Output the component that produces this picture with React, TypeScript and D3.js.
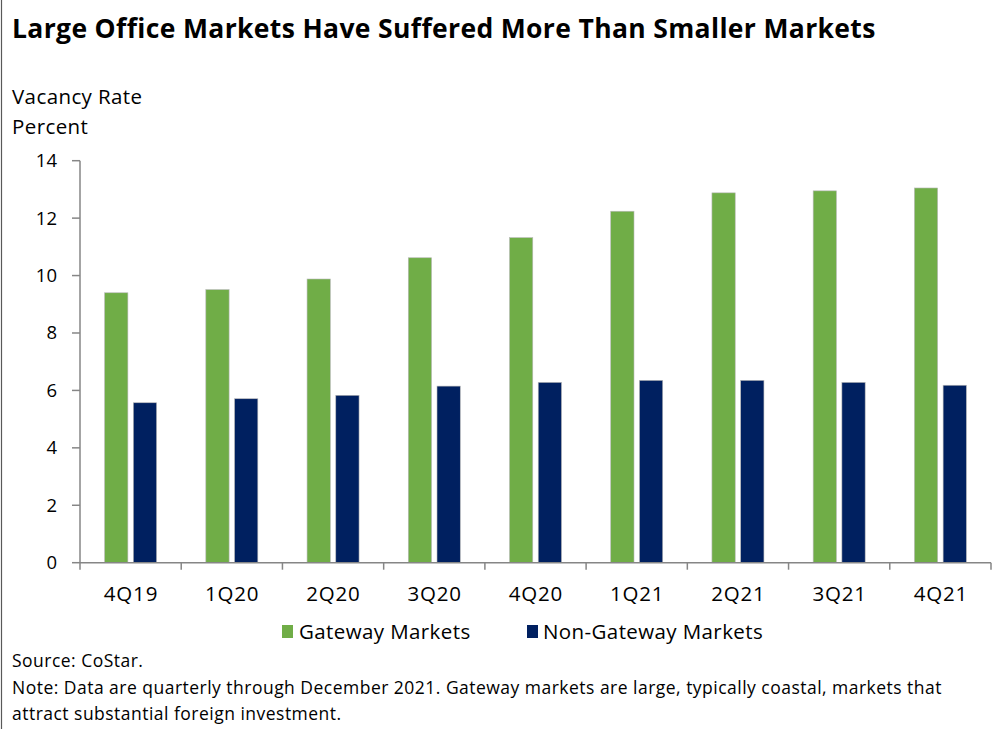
import React from "react";
import * as d3 from "d3";

const categories = ["4Q19", "1Q20", "2Q20", "3Q20", "4Q20", "1Q21", "2Q21", "3Q21", "4Q21"];
const seriesNames = ["Gateway Markets", "Non-Gateway Markets"];
const gateway = [9.4, 9.51, 9.88, 10.62, 11.32, 12.24, 12.88, 12.95, 13.05];
const nonGateway = [5.57, 5.71, 5.83, 6.15, 6.28, 6.35, 6.35, 6.28, 6.18];
const yTicks = [0, 2, 4, 6, 8, 10, 12, 14];
const colors = ["#70AD47", "#002060"];

const W = 1008;
const H = 729;
const FONT = "'Open Sans', 'Lato', sans-serif";

export default function App() {
  const x0 = d3.scaleBand<string>().domain(categories).range([80, 991]).paddingInner(0).paddingOuter(0);
  const bw = x0.bandwidth();
  const x1 = d3
    .scaleBand<string>()
    .domain(seriesNames)
    .range([bw / 2 - 26, bw / 2 + 26])
    .paddingInner(0.19)
    .paddingOuter(0);
  const y = d3.scaleLinear().domain([0, 14]).range([562.7, 160.7]);
  const data = [gateway, nonGateway];
  const axisColor = "#868686";

  return (
    <svg
      width={W}
      height={H}
      style={{ position: "absolute", left: 0, top: 0, background: "#fff" }}
      fontFamily={FONT}
    >
      <rect x={0} y={0} width={W} height={H} fill="#fff" />
      <line x1={1.5} x2={1.5} y1={0} y2={H} stroke="#595959" strokeWidth={1.2} />
      <text x={12} y={38} fontSize={26.5} fontWeight={700} letterSpacing={0.35} fill="#000">
        Large Office Markets Have Suffered More Than Smaller Markets
      </text>
      <text x={12} y={97} dy="0.35em" fontSize={20.5} letterSpacing={0.4} fill="#000">Vacancy Rate</text>
      <text x={12} y={127} dy="0.35em" fontSize={20.5} letterSpacing={0.4} fill="#000">Percent</text>

      {/* y axis */}
      <line x1={80} x2={80} y1={y(14)} y2={y(0)} stroke={axisColor} strokeWidth={1.5} />
      {yTicks.map((t) => (
        <g key={t}>
          <line x1={72} x2={80} y1={y(t)} y2={y(t)} stroke={axisColor} strokeWidth={1.5} />
          <text x={57} y={y(t)} dy="0.35em" textAnchor="end" fontSize={18.5} fill="#000">
            {t}
          </text>
        </g>
      ))}

      {/* bars */}
      {categories.map((c, i) => (
        <g key={c} transform={`translate(${x0(c)},0)`}>
          {seriesNames.map((s, j) => (
            <rect
              key={s}
              x={x1(s)}
              y={y(data[j][i])}
              width={x1.bandwidth()}
              height={y(0) - y(data[j][i])}
              fill={colors[j]}
              stroke="#b8b8b8"
              strokeWidth={0.6}
            />
          ))}
        </g>
      ))}

      {/* x axis */}
      <line x1={80} x2={991} y1={y(0)} y2={y(0)} stroke={axisColor} strokeWidth={1.5} />
      {categories.map((c) => (
        <line key={c} x1={x0(c)} x2={x0(c)} y1={y(0)} y2={y(0) + 7} stroke={axisColor} strokeWidth={1.5} />
      ))}
      <line x1={991} x2={991} y1={y(0)} y2={y(0) + 7} stroke={axisColor} strokeWidth={1.5} />
      {categories.map((c) => (
        <text key={c} x={(x0(c) as number) + bw / 2 + 0.4} y={594} dy="0.35em" textAnchor="middle" fontSize={20.5} letterSpacing={0.8} fill="#000">
          {c}
        </text>
      ))}

      {/* legend */}
      <rect x={282} y={625} width={11} height={13} fill={colors[0]} />
      <text x={299} y={632} dy="0.35em" fontSize={20.5} letterSpacing={0.4} fill="#000">{seriesNames[0]}</text>
      <rect x={527} y={625} width={11} height={13} fill={colors[1]} />
      <text x={543} y={632} dy="0.35em" fontSize={20.5} letterSpacing={0.4} fill="#000">{seriesNames[1]}</text>

      {/* footer */}
      <text x={12} y={661} dy="0.35em" fontSize={17.5} letterSpacing={0.48} fill="#000">Source: CoStar.</text>
      <text x={12} y={688} dy="0.35em" fontSize={17.5} letterSpacing={0.48} fill="#000">
        Note: Data are quarterly through December 2021. Gateway markets are large, typically coastal, markets that
      </text>
      <text x={12} y={714} dy="0.35em" fontSize={17.5} letterSpacing={0.48} fill="#000">attract substantial foreign investment.</text>
    </svg>
  );
}
